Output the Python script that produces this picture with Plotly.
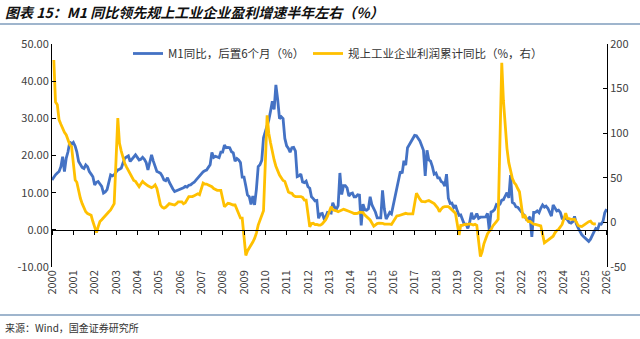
import pandas as pd
import plotly.graph_objects as go

# ---------------- data ----------------
# M1 YoY (%), shifted forward 6 months; monthly, 2000-01 .. 2026-01
m1_lagged = [
    13.4, 14.2, 14.8, 15.3, 15.7, 17.0, 19.7, 15.7, 19.3, 21.0, 23.7, 23.0,   # 2000
    23.5, 22.5, 21.0, 18.4, 17.5, 16.8, 16.5, 17.5, 17.0, 15.7, 15.0, 14.3,   # 2001
    12.1, 12.8, 13.0, 12.3, 11.7, 9.9, 10.2, 10.8, 12.5, 14.8, 14.5, 14.8,    # 2002
    15.5, 16.1, 16.3, 16.6, 18.0, 19.3, 19.6, 19.9, 18.4, 19.0, 19.8, 20.2,   # 2003
    19.5, 18.8, 19.0, 19.5, 19.0, 18.1, 16.1, 17.8, 20.2, 18.5, 17.0, 15.7,   # 2004
    15.5, 15.2, 14.5, 13.4, 13.2, 14.0, 12.8, 11.7, 11.0, 10.3, 10.5, 10.8,   # 2005
    10.8, 11.0, 11.3, 11.7, 11.5, 12.0, 12.1, 12.5, 12.8, 13.4, 14.0, 14.5,   # 2006
    15.3, 15.6, 15.9, 16.1, 16.8, 17.5, 20.8, 19.5, 19.8, 19.5, 19.4, 20.9,   # 2007
    20.9, 22.8, 22.1, 22.2, 22.1, 21.0, 20.7, 18.5, 19.2, 18.8, 18.1, 14.2,   # 2008
    14.2, 11.8, 9.4, 8.9, 6.8, 9.1, 6.7, 10.9, 17.0, 17.5, 18.7, 24.8,        # 2009
    26.4, 27.7, 29.5, 32.0, 34.6, 32.4, 39.0, 35.0, 29.9, 30.4, 29.9, 24.6,   # 2010
    22.6, 21.9, 20.9, 22.1, 22.2, 21.2, 14.3, 14.5, 15.0, 12.9, 12.7, 13.1,   # 2011
    11.6, 11.2, 8.9, 8.4, 7.8, 7.9, 3.1, 4.3, 4.4, 3.1, 3.5, 4.7,             # 2012
    4.6, 4.5, 7.3, 6.1, 5.5, 6.5, 15.3, 9.5, 11.9, 11.9, 11.3, 9.1,           # 2013
    9.7, 9.9, 8.9, 8.9, 9.4, 9.3, 1.2, 6.9, 5.4, 5.3, 5.7, 8.9,               # 2014
    6.7, 5.7, 4.8, 3.2, 3.2, 3.2, 10.6, 5.6, 2.9, 3.7, 4.7, 4.3,              # 2015
    6.6, 9.3, 11.4, 14.0, 15.7, 15.2, 18.6, 17.4, 22.1, 22.9, 23.7, 24.6,     # 2016
    25.4, 25.3, 24.7, 23.9, 22.7, 21.4, 14.5, 21.4, 18.8, 18.5, 17.0, 15.0,   # 2017
    15.3, 14.0, 14.0, 13.0, 12.7, 11.8, 15.0, 8.5, 7.1, 7.2, 6.0, 6.6,        # 2018
    5.1, 3.9, 4.0, 2.7, 1.5, 1.5, 0.4, 2.0, 4.6, 2.9, 3.4, 4.4,               # 2019
    3.1, 3.4, 3.4, 3.3, 3.5, 4.4, 0.0, 4.8, 5.0, 5.5, 6.8, 6.5,               # 2020
    6.9, 8.0, 8.1, 9.1, 10.0, 8.6, 14.7, 7.4, 7.1, 6.2, 6.1, 5.5,             # 2021
    4.9, 4.2, 3.7, 2.8, 3.0, 3.5, -1.9, 4.7, 4.7, 5.1, 4.6, 5.8,              # 2022
    6.7, 6.1, 6.4, 5.8, 4.6, 3.7, 6.7, 5.8, 5.1, 5.3, 4.7, 3.1,               # 2023
    3.1, 3.1, 2.7, 2.0, 1.8, 2.2, 3.6, 1.6, 0.5, -0.5, -1.3, -1.8,            # 2024
    -2.2, -2.7, -3.1, -2.5, -1.3, -0.5, 0.4, 0.1, 1.6, 1.5, 2.3, 4.6,         # 2025
    5.6,                                                                      # 2026
]
m1_start = "2000-01-01"

# Industrial profits, cumulative YoY (%), right axis; Feb..Dec each year
profit_years = list(range(2000, 2026))
profit_cum_yoy = [
    [182, 135, 132, 115, 110, 105, 101, 98, 92, 87, 85],              # 2000
    [47.5, 45, 34, 27, 21, 16, 12, 10, 9, 8, 1],                      # 2001
    [-11.5, -5, 1, 3, 5.5, 8, 10, 12, 14, 17, 21],                    # 2002
    [117, 89, 80, 72, 66, 62, 58, 55, 51, 47, 46],                    # 2003
    [40, 43, 46, 44, 42, 41, 40, 39, 40, 42, 38],                     # 2004
    [19.5, 17, 16, 17, 19, 21, 20.5, 20, 19.5, 21, 23],               # 2005
    [23, 21, 22, 25, 29, 29, 29, 30, 31, 32, 31],                     # 2006
    [44, 43, 43, 42, 41, 40, 38, 37, 36, 36, 36],                     # 2007
    [17.6, 19, 21.4, 21, 20, 19.5, 19.5, 14, 8.3, 5, 4.9],            # 2008
    [-37, -32, -29, -25, -22, -18, -12, -3, 2, 6.4, 13],              # 2009
    [120, 100, 89, 78, 70, 63, 57, 53, 50, 47, 46],                   # 2010
    [34, 33, 32.6, 30, 29, 29, 29, 29, 28, 25, 25],                   # 2011
    [-5, -1.3, -1, -2.4, -2.2, -3, -3.1, -1.8, 0.5, 3, 7],            # 2012
    [17.6, 14, 13.9, 13, 12, 13, 14, 14.7, 14, 13.5, 12.5],           # 2013
    [10.9, 10, 10, 10.2, 11.4, 10.9, 10.9, 8.3, 6.7, 4.2, 2.7],       # 2014
    [-4.2, -2.7, -1.3, -0.8, -0.7, -1, -1.9, -1.7, -2, -1.9, -2.3],   # 2015
    [5, 7.2, 7.5, 8.3, 9, 10.2, 10.2, 9.5, 9.5, 10, 9.5],             # 2016
    [32.6, 28.5, 26, 23.5, 23, 23, 24, 24.5, 23.5, 22, 21],           # 2017
    [16.1, 12, 15, 17, 17.6, 17.2, 17.6, 16, 14, 12, 10.2],           # 2018
    [-14, -3.3, -3.4, -2.3, -2.4, -1.7, -1.7, -2.1, -2.9, -2.1, -3.3],# 2019
    [-38.3, -33, -24, -18, -13, -10, -8, -4, -1, 1, 3.5],             # 2020
    [179, 137, 106, 83, 67, 57, 49.5, 44.7, 42.2, 38, 34.3],          # 2021
    [5, 8.5, 3.5, 1, 1, -1.1, -2.1, -2.3, -3, -3.6, -4],              # 2022
    [-22.9, -21.4, -20.6, -18.8, -16.8, -15.5, -11.7, -9, -7.8, -4.4, -2.3],  # 2023
    [10.2, 4.3, 4.3, 3.4, 3.5, 3.6, 0.5, -3.5, -4.3, -4.7, -3.3],     # 2024
    [-0.3, 0.8, 1.4, -1.1, -1.8, -1.7],                               # 2025
]

left_ticks = [-10, 0, 10, 20, 30, 40, 50]
left_ticktext = ["-10.00", "0.00", "10.00", "20.00", "30.00", "40.00", "50.00"]
right_ticks = [-50, 0, 50, 100, 150, 200]
right_ticktext = ["-50", "0", "50", "100", "150", "200"]

name_m1 = "M1同比，后置6个月（%）"
name_profit = "规上工业企业利润累计同比（%，右）"
title_text = "图表 15：M1 同比领先规上工业企业盈利增速半年左右（%）"
source_text = "来源：Wind，国金证券研究所"

# ---------------- build series ----------------
m1_dates = pd.date_range(m1_start, periods=len(m1_lagged), freq="MS")
p_dates, p_vals = [], []
for yr, vals in zip(profit_years, profit_cum_yoy):
    for i, v in enumerate(vals):
        p_dates.append(pd.Timestamp(year=yr, month=2 + i, day=1))
        p_vals.append(v)

BLUE = "#4472C4"
YELLOW = "#FFC000"
FONT = "Noto Sans CJK SC"
xrange = ["2000-01-01", "2026-01-08"]

pw, ph = 640 - 52 - 33, 339 - 44 - 72
def px_x(x):
    return (x - 52) / pw
def px_y(y):
    return (339 - 72 - y) / ph

fig = go.Figure()
fig.add_trace(go.Scatter(x=m1_dates, y=m1_lagged, name=name_m1, mode="lines",
                         line=dict(color=BLUE, width=2.8), yaxis="y", legend="legend"))
fig.add_trace(go.Scatter(x=p_dates, y=p_vals, name=name_profit, mode="lines",
                         line=dict(color=YELLOW, width=2.8), yaxis="y2", legend="legend2"))
# empty helper trace so the zero-line axis (x2) is drawn
fig.add_trace(go.Scatter(x=[], y=[], xaxis="x2", yaxis="y", showlegend=False,
                         hoverinfo="skip"))

axis_common = dict(showgrid=False, zeroline=False)
legend_common = dict(orientation="h", xanchor="left", y=px_y(39), yanchor="top",
                     bgcolor="rgba(0,0,0,0)", font=dict(size=11.5, color="#333333"),
                     itemwidth=30)
fig.update_layout(
    width=640, height=339,
    margin=dict(l=52, r=33, t=44, b=72),
    paper_bgcolor="white", plot_bgcolor="white",
    font=dict(family=FONT, size=11, color="#404040"),
    title=dict(text="<b><i>" + title_text + "</i></b>", x=0.008, xanchor="left",
               xref="container", yref="container", y=1 - 13 / 339, yanchor="middle",
               font=dict(family=FONT, size=14, color="#111111")),
    xaxis=dict(type="date", range=xrange, tick0="2000-01-01", dtick="M12",
               tickformat="%Y", tickangle=-90, showline=False, ticks="",
               tickfont=dict(size=11, color="#404040"), **axis_common),
    xaxis2=dict(type="date", range=xrange, tick0="2000-01-01", dtick="M12",
                overlaying="x", anchor="free", position=10 / 60,
                showticklabels=False, showline=True, linecolor="black", linewidth=1,
                ticks="outside", ticklen=4, tickcolor="black", **axis_common),
    yaxis=dict(range=[-10, 50], tickvals=left_ticks, ticktext=left_ticktext,
               showline=True, linecolor="black", linewidth=1, ticks="inside",
               ticklen=4, tickcolor="black", **axis_common),
    yaxis2=dict(range=[-50, 200], tickvals=right_ticks, ticktext=right_ticktext,
                overlaying="y", side="right", showline=True, linecolor="black",
                linewidth=1, ticks="inside", ticklen=4, tickcolor="black", **axis_common),
    legend=dict(x=px_x(128), **legend_common),
    legend2=dict(x=px_x(308), **legend_common),
    showlegend=True,
)

# header / footer separator lines and source note
for yline in (24, 315):
    fig.add_shape(type="line", xref="paper", yref="paper",
                  x0=px_x(0), x1=px_x(640), y0=px_y(yline), y1=px_y(yline),
                  line=dict(color="#7F9DBD", width=1.5))
fig.add_annotation(text=source_text, xref="paper", yref="paper",
                   x=px_x(3), y=px_y(327), xanchor="left", yanchor="middle",
                   showarrow=False, font=dict(family=FONT, size=10, color="#333333"))

fig.write_html("out.html")
